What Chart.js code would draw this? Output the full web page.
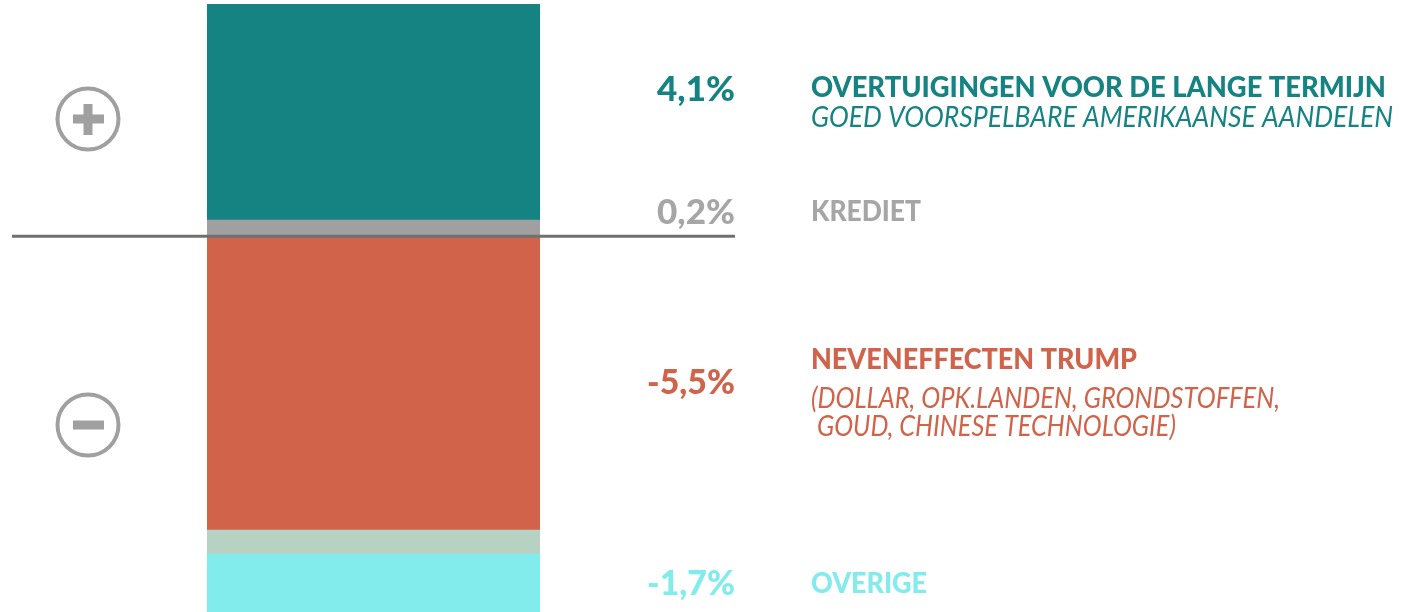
<!DOCTYPE html>
<html>
<head>
<meta charset="utf-8">
<script src="https://cdn.jsdelivr.net/npm/chart.js@4.4.1/dist/chart.umd.min.js"></script>
<style>
  html, body { margin: 0; padding: 0; background: #fff; }
  #wrap { width: 1401px; height: 612px; position: relative; }
</style>
</head>
<body>
<div id="wrap"><canvas id="bar-chart"></canvas></div>
<script>
// segment values (stacked from zero outward)
var segmentNames = ["Krediet", "Overtuigingen", "Neveneffecten Trump", "Overig (rest)", "Overige"];
var segmentValues = [0.3, 4.05, -5.5, -0.45, -1.7];
var segmentColors = ["#a0a0a0", "#168383", "#d0634a", "#b5d2c3", "#82ecec"];

// texts on the right
var pctLabels = ["4,1%", "0,2%", "-5,5%", "-1,7%"];
var pctColors = ["#168383", "#a6a6a6", "#d0634a", "#82ecec"];
var titleLabels = ["OVERTUIGINGEN VOOR DE LANGE TERMIJN", "KREDIET", "NEVENEFFECTEN TRUMP", "OVERIGE"];
var subLabels = [["GOED VOORSPELBARE AMERIKAANSE AANDELEN"], [], ["(DOLLAR, OPK.LANDEN, GRONDSTOFFEN,", " GOUD, CHINESE TECHNOLOGIE)"], []];

var FONT = 'Lato, "Noto Sans", sans-serif';

// draw text squeezed/stretched horizontally to a given width (narrow font look)
function fitText(ctx, text, x, y, w, alignRight) {
    var m = ctx.measureText(text).width;
    var sx = w / m;
    ctx.save();
    ctx.translate(alignRight ? x - w : x, y);
    ctx.scale(sx, 1);
    ctx.textAlign = "left";
    ctx.fillText(text, 0, 0);
    ctx.restore();
}

var textPlugin = {
    id: "sideText",
    afterDatasetsDraw: function (chart) {
        var ctx = chart.ctx;
        var y0 = chart.scales.y.getPixelForValue(0);

        // zero line
        ctx.save();
        ctx.strokeStyle = "#707070";
        ctx.lineWidth = 3;
        ctx.beginPath();
        ctx.moveTo(12, y0);
        ctx.lineTo(735, y0);
        ctx.stroke();

        // plus / minus icons
        ctx.strokeStyle = "#a0a0a0";
        ctx.fillStyle = "#a0a0a0";
        ctx.lineWidth = 4;
        [[88, 119], [88, 425]].forEach(function (c, i) {
            ctx.beginPath();
            ctx.arc(c[0], c[1], 30.5, 0, Math.PI * 2);
            ctx.stroke();
            ctx.fillRect(c[0] - 15, c[1] - 4.5, 31, 9);
            if (i === 0) ctx.fillRect(c[0] - 4.5, c[1] - 15, 9, 31);
        });

        // labels
        var pctBase = [101, 224, 394, 595];
        var pctW = [78, 78, 88, 88];
        var titleBase = [97, 221, 369, 593];
        var titleW = [575, 110, 326, 116];
        var subBase = [[127], [], [408, 436]];
        var subW = [[582], [], [469, 365]];
        ctx.textBaseline = "alphabetic";
        pctLabels.forEach(function (t, i) {
            ctx.fillStyle = pctColors[i];
            ctx.font = "900 35px " + FONT;
            fitText(ctx, t, 735, pctBase[i], pctW[i], true);
            ctx.font = "900 28px " + FONT;
            fitText(ctx, titleLabels[i], 811, titleBase[i], titleW[i], false);
            ctx.font = "italic 28px " + FONT;
            subLabels[i].forEach(function (s, j) {
                fitText(ctx, s, 811, subBase[i][j], subW[i][j], false);
            });
        });
        ctx.restore();
    }
};

var barContext = document.getElementById("bar-chart").getContext("2d");

var barChart = new Chart(barContext, {
    type: "bar",
    data: {
        labels: ["Bijdrage"],
        datasets: segmentValues.map(function (v, i) {
            return {
                label: segmentNames[i],
                data: [v],
                backgroundColor: segmentColors[i],
                borderWidth: 0,
                barPercentage: 1,
                categoryPercentage: 1
            };
        })
    },
    options: {
        animation: false,
        responsive: true,
        maintainAspectRatio: false,
        layout: {
            padding: { left: 207, right: 861, top: 0, bottom: 0 }
        },
        plugins: {
            legend: { display: false },
            tooltip: { enabled: false }
        },
        scales: {
            x: { stacked: true, display: false },
            y: { stacked: true, display: false, min: -7.05, max: 4.43 }
        }
    },
    plugins: [textPlugin]
});
</script>
</body>
</html>
